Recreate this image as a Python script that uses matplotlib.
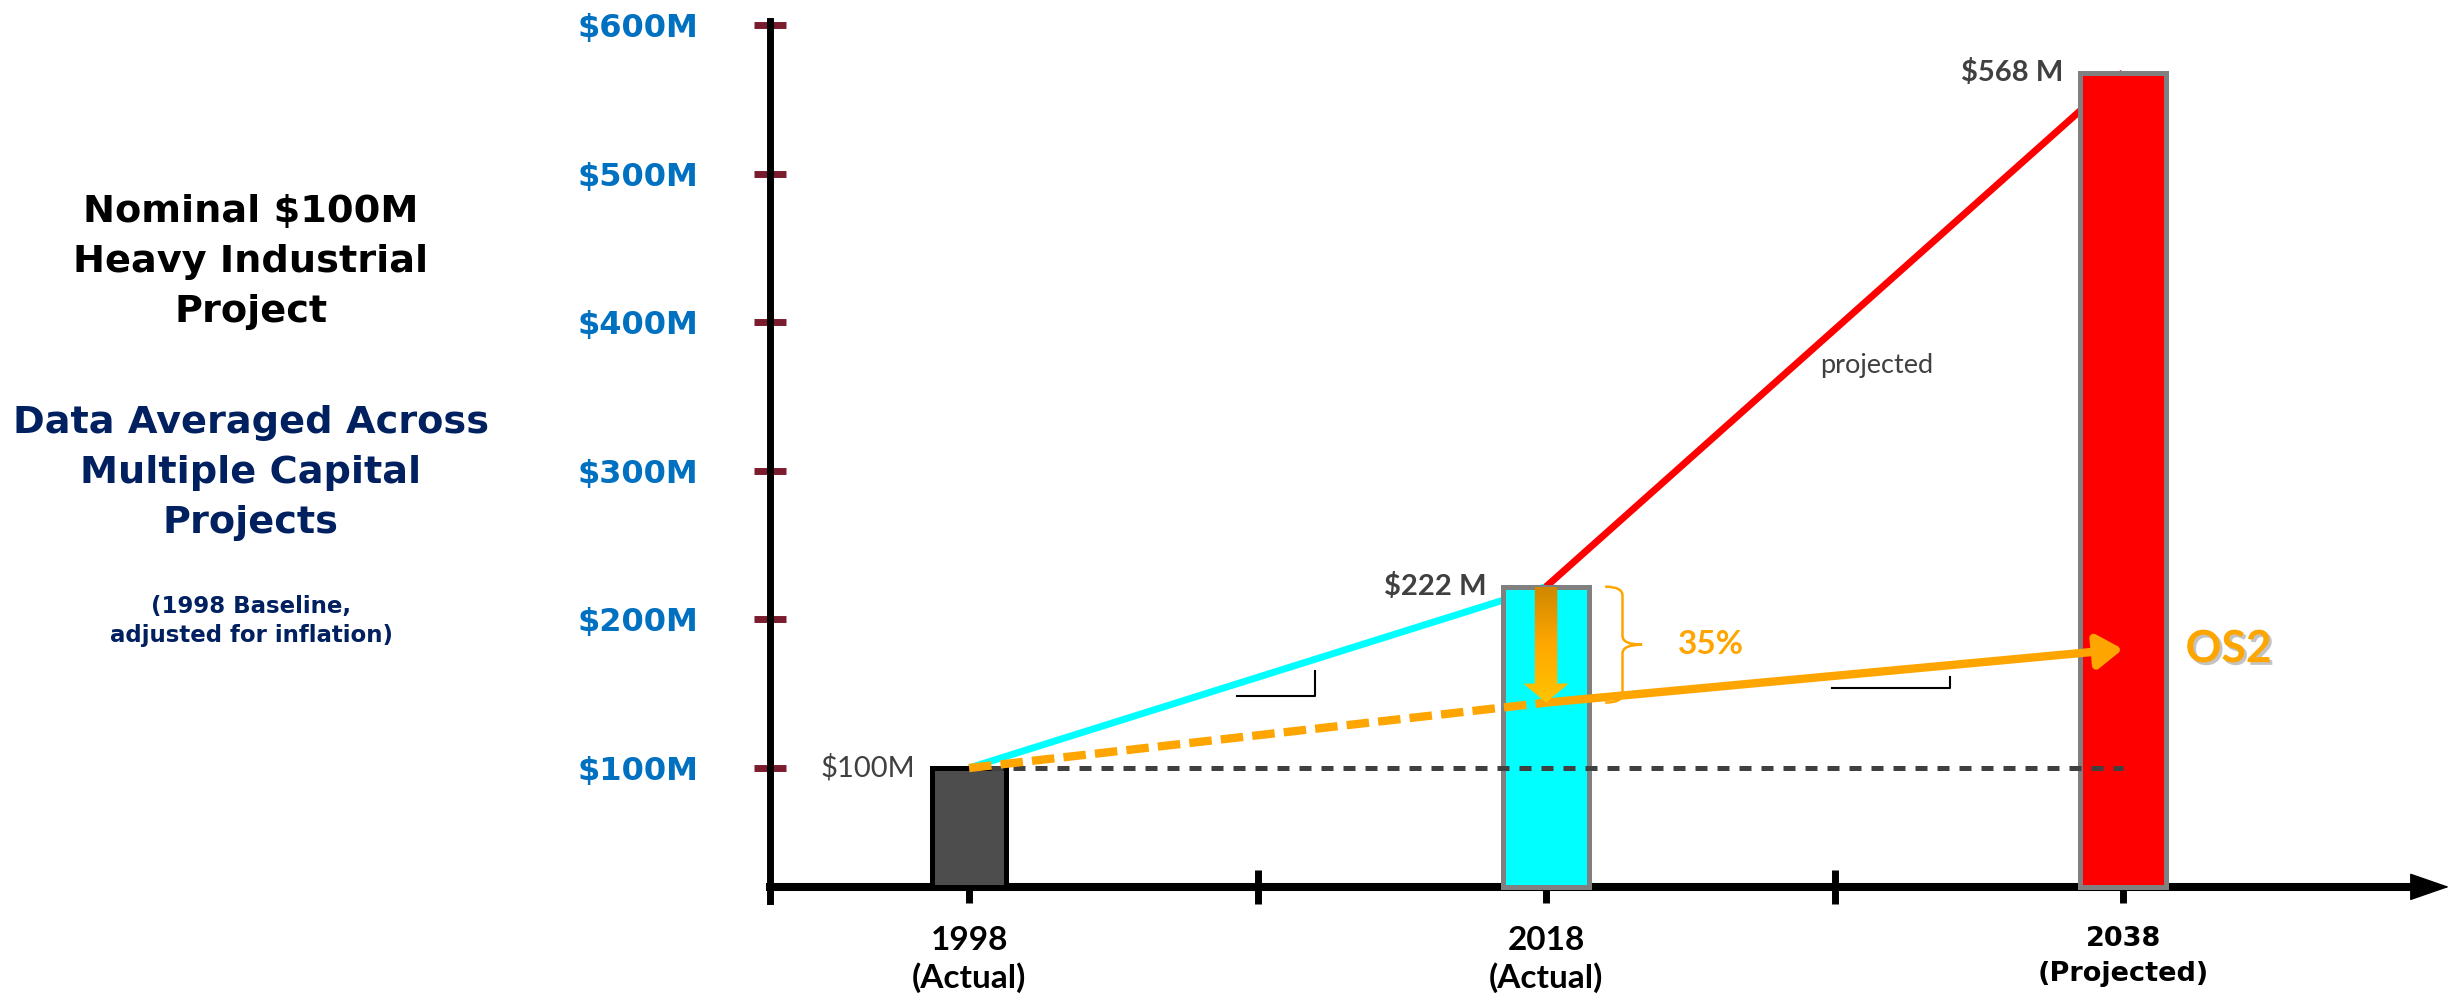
import numpy as np
import matplotlib
matplotlib.use('Agg')
import matplotlib.pyplot as plt
import matplotlib.patheffects as pe
from matplotlib.patches import Polygon, PathPatch
from matplotlib.path import Path
from matplotlib.colors import LinearSegmentedColormap

plt.rcParams['text.parse_math'] = False

# data ($M)
years = [1998, 2018, 2038]
bar_values = [100, 222, 568]
bar_labels = ['$100M', '$222 M', '$568 M']
bar_colors = ['#4d4d4d', '#00ffff', '#ff0000']
bar_edges = ['black', '#808080', '#808080']
bar_widths = [2.56, 2.95, 2.95]
os2_values = [100, 144, 180]
reduction_label = '35%'
ytick_values = [100, 200, 300, 400, 500, 600]
ytick_labels = ['$100M', '$200M', '$300M', '$400M', '$500M', '$600M']
xtick_labels = ['1998\n(Actual)', '2018\n(Actual)', '2038\n(Projected)']
minor_years = [2008, 2028]
axis_value = 20          # where the x axis sits
axis_year = 1991.1       # where the y axis sits

ORANGE = '#ffa500'
CAL = ['Lato', 'DejaVu Sans']

fig = plt.figure(figsize=(24.6, 9.99), dpi=100)
ax = fig.add_axes([0, 0, 1, 1])
ax.patch.set_visible(False)
ax.set_xlim(1964.41, 2049.68)
ax.set_ylim(-55.45, 616.8)

# axes lines
for s in ['top', 'right']:
    ax.spines[s].set_visible(False)
ax.spines['left'].set_position(('data', axis_year))
ax.spines['left'].set_bounds(10.5, 603)
ax.spines['left'].set_linewidth(5)
ax.spines['bottom'].set_position(('data', axis_value))
ax.spines['bottom'].set_bounds(axis_year, 2048)
ax.spines['bottom'].set_linewidth(5.8)
ax.annotate('', xy=(2049.3, axis_value), xytext=(2047, axis_value),
            arrowprops=dict(arrowstyle='-|>,head_length=26,head_width=9',
                            mutation_scale=1, color='black', lw=1,
                            shrinkA=0, shrinkB=0))

ax.set_yticks(ytick_values, ytick_labels)
ax.tick_params(axis='y', direction='inout', length=23, width=5, color='#7b1c2e',
               pad=40, labelsize=23, labelcolor='#0070c0')
for t in ax.get_yticklabels():
    t.set_fontweight('bold')

ax.set_xticks(years, xtick_labels)
ax.set_xticks(minor_years, minor=True)
ax.tick_params(axis='x', which='major', direction='out', length=11.5, width=5,
               color='black', pad=17)
ax.tick_params(axis='x', which='minor', direction='inout', length=24, width=5,
               color='black')
for i, t in enumerate(ax.get_xticklabels()):
    t.set_fontweight('bold')
    t.set_linespacing(1.25)
    if i < 2:
        t.set_family(CAL)
        t.set_fontsize(24)
    else:
        t.set_fontsize(19.5)
        t.set_linespacing(1.45)

# growth lines (behind bars)
ax.plot(years[:2], bar_values[:2], color='#00ffff', lw=5, zorder=2,
        solid_capstyle='butt')
ax.plot(years[1:], bar_values[1:], color='#ff0000', lw=5, zorder=2,
        solid_capstyle='butt')

# bars
ax.bar(years, [v - axis_value for v in bar_values], bottom=axis_value,
       width=bar_widths, color=bar_colors, edgecolor=bar_edges, linewidth=3.6,
       zorder=3)

# baseline
ax.plot([years[0], years[-1]], [bar_values[0]] * 2, color='#404040', lw=3.6,
        dashes=(2.4, 2.0), zorder=4)

# OS2 trajectory
ax.plot(years[:2], os2_values[:2], color=ORANGE, lw=6, dashes=(2.7, 1.1),
        zorder=5)
ax.annotate('', xy=(years[2], os2_values[2]), xytext=(years[1], os2_values[1]),
            arrowprops=dict(arrowstyle='-|>,head_length=15,head_width=10',
                            mutation_scale=1, color=ORANGE, lw=6,
                            shrinkA=0, shrinkB=0), zorder=5)
ax.annotate('OS2', xy=(years[2], os2_values[2]), xytext=(45, 0),
            textcoords='offset points', ha='left', va='center',
            fontsize=32, fontweight='bold', family=CAL, color=ORANGE,
            path_effects=[pe.SimplePatchShadow(offset=(2, -2), shadow_rgbFace='#888888', alpha=0.5),
                          pe.Normal()], zorder=6)

# slope markers under the two lines
def slope_marker(xs, ys, x1, x2, gap=8):
    y1 = np.interp(x1, xs, ys) - gap
    y2 = np.interp(x2, xs, ys) - gap
    ax.plot([x1, x2, x2], [y1, y1, y2], color='black', lw=1.5, zorder=4)

slope_marker(years[:2], bar_values[:2], 2007.3, 2010.0)
slope_marker(years[1:], os2_values[1:], 2027.9, 2032.0)

# 35% reduction arrow with gradient
x0, top, tip = years[1], bar_values[1], os2_values[1]
sw, hw, hl = 0.39, 0.78, 12.8
verts = [(x0 - sw, top), (x0 + sw, top), (x0 + sw, tip + hl), (x0 + hw, tip + hl),
         (x0, tip), (x0 - hw, tip + hl), (x0 - sw, tip + hl)]
arrow = Polygon(verts, closed=True, fc='none', ec='none', zorder=6)
ax.add_patch(arrow)
cmap = LinearSegmentedColormap.from_list('amber', ['#d08800', '#ffa800', '#ffc400'])
grad = np.linspace(0, 1, 200).reshape(-1, 1)
im = ax.imshow(grad, cmap=cmap, extent=[x0 - hw, x0 + hw, tip, top],
               origin='upper', aspect='auto', interpolation='bilinear', zorder=6)
im.set_clip_path(arrow)
ax.set_xlim(1964.41, 2049.68)
ax.set_ylim(-55.45, 616.8)

# brace
bx0, bxm, bxt, r = 2020.05, 2020.65, 2021.33, 6
mid = (top + tip) / 2
bpath = Path([(bx0, top), (bxm, top), (bxm, top - r), (bxm, mid + r),
              (bxm, mid), (bxt, mid), (bxm, mid), (bxm, mid - r),
              (bxm, tip + r), (bxm, tip), (bx0, tip)],
             [Path.MOVETO, Path.CURVE3, Path.CURVE3, Path.LINETO,
              Path.CURVE3, Path.CURVE3, Path.CURVE3, Path.CURVE3,
              Path.LINETO, Path.CURVE3, Path.CURVE3])
ax.add_patch(PathPatch(bpath, fc='none', ec=ORANGE, lw=1.8, zorder=5))
ax.annotate(reduction_label, xy=(bxt, mid), xytext=(26, 0),
            textcoords='offset points', ha='left', va='center',
            fontsize=24, fontweight='bold', family=CAL, color=ORANGE)

# value labels
for yr, v, w, lab in zip(years, bar_values, bar_widths, bar_labels):
    ax.annotate(lab, xy=(yr - w / 2, v), xytext=(-12, 0),
                textcoords='offset points', ha='right', va='center',
                fontsize=21, fontweight='normal' if yr == years[0] else 'bold',
                family=CAL, color='#404040')

ax.text(2027.5, 371, 'projected', ha='left', va='center', fontsize=19.5,
        family=CAL, color='#404040')

# left-hand description
fig.text(251 / 2460, 1 - 262 / 999, 'Nominal $100M\nHeavy Industrial\nProject',
         ha='center', va='center', fontsize=27.5, fontweight='bold',
         color='black', linespacing=1.5)
fig.text(251 / 2460, 1 - 473 / 999, 'Data Averaged Across\nMultiple Capital\nProjects',
         ha='center', va='center', fontsize=27.5, fontweight='bold',
         color='#002060', linespacing=1.5)
fig.text(251 / 2460, 1 - 621 / 999, '(1998 Baseline,\nadjusted for inflation)',
         ha='center', va='center', fontsize=16.5, fontweight='bold',
         color='#002060', linespacing=1.36)

fig.savefig('out.png', dpi=100, facecolor='white')
